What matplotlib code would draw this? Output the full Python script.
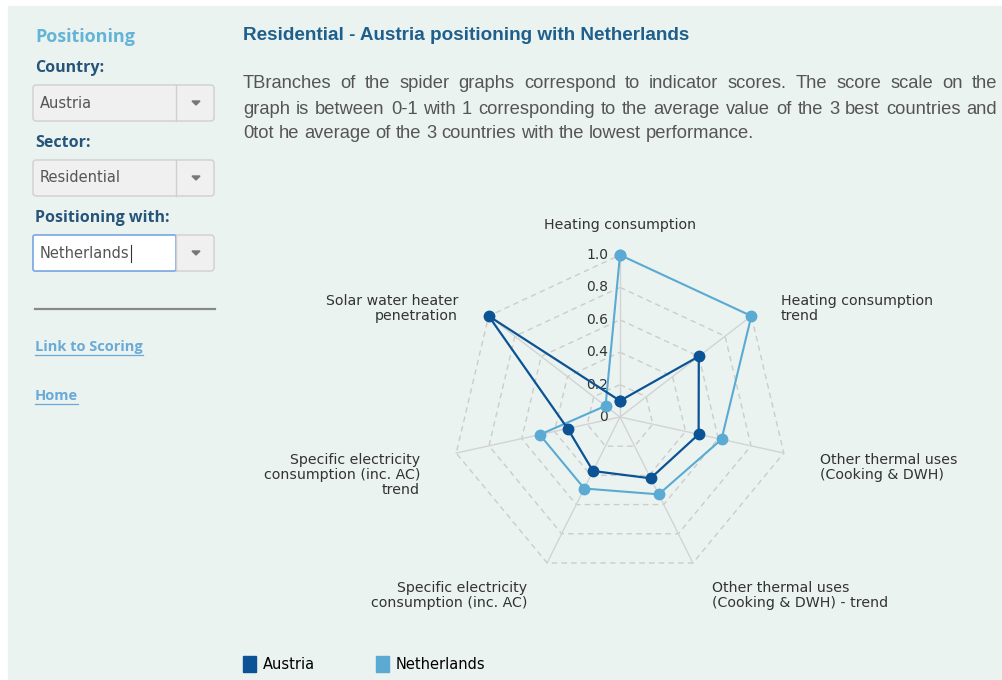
import numpy as np
import matplotlib
matplotlib.use("Agg")
import matplotlib.pyplot as plt
from matplotlib.patches import Rectangle, FancyBboxPatch, Polygon, Patch

#----------------------------------------------------------------
# data
#----------------------------------------------------------------
indicators = [
    "Heating consumption",
    "Heating consumption\ntrend",
    "Other thermal uses\n(Cooking & DWH)",
    "Other thermal uses\n(Cooking & DWH) - trend",
    "Specific electricity\nconsumption (inc. AC)",
    "Specific electricity\nconsumption (inc. AC)\ntrend",
    "Solar water heater\npenetration",
]
austria = [0.10, 0.60, 0.48, 0.42, 0.37, 0.32, 1.0]
netherlands = [1.0, 1.0, 0.62, 0.53, 0.49, 0.49, 0.11]
rings = [0.2, 0.4, 0.6, 0.8, 1.0]
ring_labels = ["0", "0.2", "0.4", "0.6", "0.8", "1.0"]

title = "Residential - Austria positioning with Netherlands"
paragraph = [
    "TBranches of the spider graphs correspond to indicator scores. The score scale on the",
    "graph is between 0-1 with 1 corresponding to the average value of the 3 best countries and",
    "0tot he average of the 3 countries with the lowest performance.",
]

BG = "#ebf3f1"
C_AT = "#0b5394"
C_NL = "#5aaad4"

W, H = 1003, 680
fig = plt.figure(figsize=(W / 100, H / 100), dpi=100)
fig.patch.set_facecolor("white")

# page axes in pixel units (y down)
page = fig.add_axes([0, 0, 1, 1])
page.set_xlim(0, W)
page.set_ylim(H, 0)
page.axis("off")
page.add_patch(Rectangle((8, 6), W - 8, H - 6, color=BG, zorder=0))
renderer = fig.canvas.get_renderer()

#----------------------------------------------------------------
# sidebar
#----------------------------------------------------------------
side_font = ["Open Sans", "DejaVu Sans"]
page.text(35, 37, "Positioning", color="#63b4d6", fontsize=13, fontweight="bold",
          family=side_font, va="center")
heads = [("Country:", 68), ("Sector:", 143), ("Positioning with:", 218)]
for txt, y in heads:
    page.text(35, y, txt, color="#27557a", fontsize=11.5, fontweight="bold",
              family=side_font, va="center")

boxes = [("Austria", 85), ("Residential", 160), ("Netherlands", 235)]
for i, (txt, y) in enumerate(boxes):
    focus = i == 2
    page.add_patch(FancyBboxPatch((33, y), 181, 36, boxstyle="round,pad=0,rounding_size=3",
                                  fc="#f0f0f0", ec="#cfcfcf", lw=1, zorder=2))
    if focus:
        page.add_patch(FancyBboxPatch((33, y), 143, 36, boxstyle="round,pad=0,rounding_size=2",
                                      fc="white", ec="#7aa8e6", lw=1.2, zorder=3))
    page.plot([176, 176], [y, y + 36], color="#cfcfcf", lw=1, zorder=3)
    page.add_patch(Polygon([(192, y + 16), (200, y + 16), (196, y + 20)], color="#777777", zorder=4))
    t = page.text(40, y + 18, txt, color="#555555", fontsize=10.5, family="DejaVu Sans",
                  va="center", zorder=5)
    if focus:
        xe = 40 + t.get_window_extent(renderer).width + 1
        page.plot([xe, xe], [y + 10, y + 27], color="#333333", lw=0.8, zorder=5)

page.plot([35, 215], [309, 309], color="#888888", lw=1.6)
for txt, y in [("Link to Scoring", 347), ("Home", 396)]:
    t = page.text(35, y, txt, color="#6aaad6", fontsize=10.5, fontweight="bold",
                  family=side_font, va="center")
    bb = t.get_window_extent(renderer)
    page.plot([35, 35 + bb.width], [y + 8, y + 8], color="#6aaad6", lw=0.9)

#----------------------------------------------------------------
# title and justified paragraph
#----------------------------------------------------------------
page.text(243, 35, title, color="#1f5f8c", fontsize=13.6, fontweight="bold",
          family="Liberation Sans", va="center")

x0, x1 = 243, 997
for k, (line, y) in enumerate(zip(paragraph, [84, 109, 133])):
    words = line.split(" ")
    texts = [page.text(0, y, w, color="#555555", fontsize=13.2,
                       family="Liberation Sans", va="center")
             for w in words]
    widths = [t.get_window_extent(renderer).width for t in texts]
    if k < len(paragraph) - 1:
        gap = (x1 - x0 - sum(widths)) / (len(words) - 1)
    else:
        gap = 5.0
    x = x0
    for t, w in zip(texts, widths):
        t.set_x(x)
        x += w + gap

#----------------------------------------------------------------
# spider chart (cartesian axes, slight horizontal stretch as in the reference)
#----------------------------------------------------------------
cx, cy, ux, uy = 620, 417, 168, 162
L, R, T, B = 400, 840, 200, 610
ax = fig.add_axes([L / W, 1 - B / H, (R - L) / W, (B - T) / H])
ax.set_xlim((L - cx) / ux, (R - cx) / ux)
ax.set_ylim((cy - B) / uy, (cy - T) / uy)
ax.axis("off")

n = len(indicators)
ang = np.pi / 2 - np.arange(n) * 2 * np.pi / n
ca, sa = np.cos(ang), np.sin(ang)

for r in rings:
    ax.plot(np.append(r * ca, r * ca[0]), np.append(r * sa, r * sa[0]),
            color="#cccccc", lw=1, ls=(0, (4, 3)), zorder=1)
for i in range(n):
    ax.plot([0, ca[i]], [0, sa[i]], color="#d3d3d3", lw=1, zorder=1)

for vals, col, lw in [(netherlands, C_NL, 1.5), (austria, C_AT, 1.6)]:
    v = np.array(vals)
    ax.plot(np.append(v * ca, v[0] * ca[0]), np.append(v * sa, v[0] * sa[0]),
            color=col, lw=lw, marker="o", ms=7.5, zorder=3)

for lab, r in zip(ring_labels, [0] + rings):
    ax.text(-0.07, r, lab, ha="right", va="center", fontsize=10, color="#333333", zorder=2)

lab_pos = [
    (0.0, 1.185, "center"),
    (0.958, 0.667, "left"),
    (1.19, -0.31, "left"),
    (0.548, -1.10, "left"),
    (-0.554, -1.10, "right"),
    (-1.19, -0.358, "right"),
    (-0.964, 0.667, "right"),
]
for lab, (x, y, ha) in zip(indicators, lab_pos):
    ax.text(x, y, lab, ha=ha, va="center", multialignment=ha,
            fontsize=10.2, color="#333333", linespacing=1.1, clip_on=False)

#----------------------------------------------------------------
# legend
#----------------------------------------------------------------
handles = [Patch(color=C_AT, label="Austria"), Patch(color=C_NL, label="Netherlands")]
fig.legend(handles=handles, loc="center left", bbox_to_anchor=(230 / W, 1 - 664 / H),
           ncol=2, frameon=False, handlelength=0.9, handleheight=1.3, handletextpad=0.45,
           columnspacing=4.2, prop={"size": 10.5})

fig.savefig("out.png", dpi=100, facecolor=fig.get_facecolor())
